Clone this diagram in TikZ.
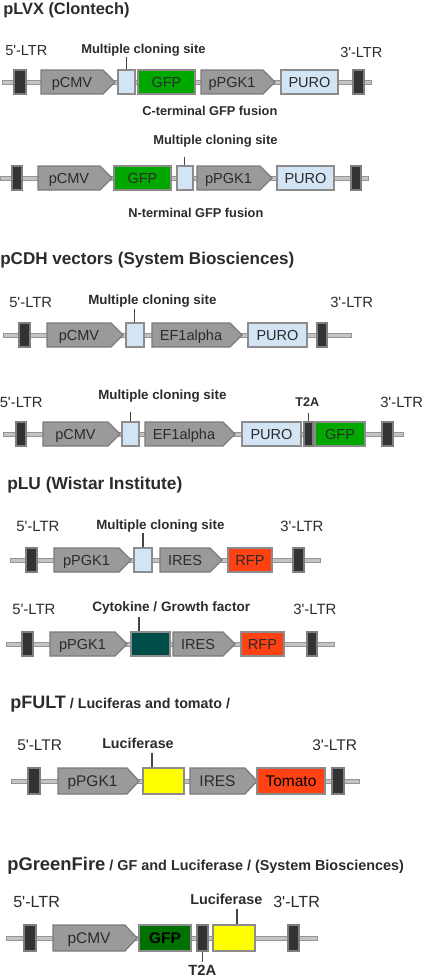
\documentclass[tikz,border=0pt]{standalone}
\usepackage{fontspec}
\setmainfont{Liberation Sans}
\newfontfamily\arialf{Liberation Sans}
\definecolor{bbfill}{HTML}{C4C4C4}
\definecolor{bbdraw}{HTML}{959595}
\definecolor{ltrfill}{HTML}{333333}
\definecolor{ltrdraw}{HTML}{7F7F7F}
\definecolor{arrfill}{HTML}{9A9A9A}
\definecolor{arrdraw}{HTML}{7B7B7B}
\definecolor{lbfill}{HTML}{D3E5F5}
\definecolor{boxdraw}{HTML}{8C8C8C}
\definecolor{gfpc}{HTML}{00A800}
\definecolor{dgfpc}{HTML}{007000}
\definecolor{rfpc}{HTML}{FF4214}
\definecolor{tealc}{HTML}{004C48}
\definecolor{yelc}{HTML}{FFFF00}
\definecolor{txtc}{HTML}{2B2B2B}
\definecolor{tickc}{HTML}{444444}
\newcommand{\bbline}[4]{\node[bbsty, minimum width={(#3-#2)*0.75pt}] (#1) at ({(#2+#3)/2},#4) {};}
\newcommand{\blk}[6]{\node[#2, minimum width={(#4-#3)*0.75pt}] (#1) at ({(#3+#4)/2},#5) {#6};}
\newcommand{\promoter}[7]{%
  \draw[arrsty] (#2,#4-#5) -- (#3-12,#4-#5) -- (#3,#4) -- (#3-12,#4+#5) -- (#2,#4+#5) -- cycle;
  \node[arrtext, #7] (#1) at ({(#2+#3-12)/2},#4) {#6};}
\begin{document}
\arialf
\begin{tikzpicture}[x=0.75pt,y=-0.75pt,
  bbsty/.style={draw=bbdraw, fill=bbfill, line width=0.75pt, minimum height=3pt, inner sep=0pt},
  blkbase/.style={draw=boxdraw, line width=0.9pt, inner sep=0pt, minimum height=18pt,
     font=\fontsize{10.9}{12}\selectfont, text=txtc, text height=7.8pt, text depth=0pt},
  tall/.style={minimum height=19.5pt, font=\fontsize{11.6}{13}\selectfont, text height=8.3pt},
  ltrsty/.style={blkbase, fill=ltrfill, draw=ltrdraw},
  lbsty/.style={blkbase, fill=lbfill},
  gfpsty/.style={blkbase, fill=gfpc},
  dgfpsty/.style={blkbase, fill=dgfpc},
  rfpsty/.style={blkbase, fill=rfpc},
  tealsty/.style={blkbase, fill=tealc},
  yelsty/.style={blkbase, fill=yelc},
  arrsty/.style={draw=arrdraw, fill=arrfill, line width=0.9pt, line join=miter},
  arrtext/.style={inner sep=0pt, font=\fontsize{10.9}{12}\selectfont, text=txtc, text height=7.8pt, text depth=0pt},
  bigtxt/.style={font=\fontsize{11.6}{13}\selectfont, text height=8.3pt},
  ticksty/.style={draw=tickc, line width=0.8pt},
  lbl/.style={anchor=base west, inner sep=0pt, text=txtc},
  ttl/.style={anchor=base west, inner sep=0pt, text=txtc}
]
\useasboundingbox (0,0) rectangle (425,979);

% ===== Section 1: pLVX =====
\node[ttl, font=\bfseries\fontsize{12.3}{14}\selectfont] (t1) at (3,14.8) {pLVX (Clontech)};

% Row 1
\bbline{bb1}{2}{371}{82}
\blk{ltr1a}{ltrsty}{14}{26}{82}{}
\promoter{pcmv1}{41}{115}{82}{12}{pCMV}{}
\blk{mcs1}{lbsty}{118}{135}{82}{}
\blk{gfp1}{gfpsty}{138}{195}{82}{GFP}
\promoter{ppgk1a}{201}{275}{82}{12}{pPGK1}{}
\blk{puro1}{lbsty}{281}{338}{82}{PURO}
\blk{ltr1b}{ltrsty}{353}{364}{82}{}
\coordinate (k1) at (126.5,57);
\draw[ticksty] (mcs1.north -| k1) -- (k1);
\node[lbl, font=\fontsize{10.9}{12}\selectfont] (l1a) at (5,55.2) {5'-LTR};
\node[lbl, font=\fontsize{10.9}{12}\selectfont] (l1b) at (340,57.2) {3'-LTR};
\node[lbl, font=\bfseries\fontsize{9.7}{11}\selectfont] (m1) at (81,53.6) {Multiple cloning site};
\node[lbl, font=\bfseries\fontsize{9.6}{11}\selectfont] (c1) at (142,115.6) {C-terminal GFP fusion};

% Row 2
\bbline{bb2}{0}{368}{178}
\blk{ltr2a}{ltrsty}{12}{22}{178}{}
\promoter{pcmv2}{38}{112}{178}{12}{pCMV}{}
\blk{gfp2}{gfpsty}{114}{171}{178}{GFP}
\blk{mcs2}{lbsty}{177}{193}{178}{}
\promoter{ppgk2}{197}{272}{178}{12}{pPGK1}{}
\blk{puro2}{lbsty}{277}{334}{178}{PURO}
\blk{ltr2b}{ltrsty}{351}{361}{178}{}
\coordinate (k2) at (184.5,157);
\draw[ticksty] (mcs2.north -| k2) -- (k2);
\node[lbl, font=\bfseries\fontsize{9.7}{11}\selectfont] (m2) at (153,144.6) {Multiple cloning site};
\node[lbl, font=\bfseries\fontsize{9.6}{11}\selectfont] (n2) at (128,217.6) {N-terminal GFP fusion};

% ===== Section 2: pCDH =====
\node[ttl, font=\bfseries\fontsize{12.8}{15}\selectfont] (t2) at (0,264) {pCDH vectors (System Biosciences)};

% Row 3
\bbline{bb3}{3}{351}{335}
\blk{ltr3a}{ltrsty}{19}{30}{335}{}
\promoter{pcmv3}{47}{123}{335}{12}{pCMV}{}
\blk{mcs3}{lbsty}{126}{144}{335}{}
\promoter{ef3}{152}{242}{335}{12}{EF1alpha}{}
\blk{puro3}{lbsty}{248}{307}{335}{PURO}
\blk{ltr3b}{ltrsty}{317}{327}{335}{}
\coordinate (k3) at (134.5,309);
\draw[ticksty] (mcs3.north -| k3) -- (k3);
\node[lbl, font=\fontsize{11.1}{12}\selectfont] (l3a) at (9,307.3) {5'-LTR};
\node[lbl, font=\fontsize{11.1}{12}\selectfont] (l3b) at (330,307.3) {3'-LTR};
\node[lbl, font=\bfseries\fontsize{10}{12}\selectfont] (m3) at (88,304.8) {Multiple cloning site};

% Row 4
\bbline{bb4}{3}{403}{434}
\blk{ltr4a}{ltrsty}{16}{26}{434}{}
\promoter{pcmv4}{43}{120}{434}{12}{pCMV}{}
\blk{mcs4}{lbsty}{122}{139}{434}{}
\promoter{ef4}{145}{235}{434}{12}{EF1alpha}{}
\blk{puro4}{lbsty}{242}{301}{434}{PURO}
\blk{t2a4}{ltrsty}{304}{313}{434}{}
\blk{gfp4}{gfpsty}{315}{365}{434}{GFP}
\blk{ltr4b}{ltrsty}{382}{393}{434}{}
\coordinate (k4) at (130.5,412);
\draw[ticksty] (mcs4.north -| k4) -- (k4);
\coordinate (k4b) at (308.5,413);
\draw[ticksty] (t2a4.north -| k4b) -- (k4b);
\node[lbl, font=\fontsize{11.1}{12}\selectfont] (l4a) at (-0.5,407.3) {5'-LTR};
\node[lbl, font=\fontsize{11.1}{12}\selectfont] (l4b) at (380,407.3) {3'-LTR};
\node[lbl, font=\bfseries\fontsize{10}{12}\selectfont] (m4) at (98,399.8) {Multiple cloning site};
\node[lbl, font=\bfseries\fontsize{9.5}{11}\selectfont] (q4) at (295,406.5) {T2A};

% ===== Section 3: pLU =====
\node[ttl, font=\bfseries\fontsize{13}{15}\selectfont] (t3) at (7,489) {pLU (Wistar Institute)};

% Row 5
\bbline{bb5}{10}{320}{560}
\blk{ltr5a}{ltrsty}{26}{37}{560}{}
\promoter{ppgk5}{54}{131}{560}{12}{pPGK1}{}
\blk{mcs5}{lbsty}{134}{152}{560}{}
\promoter{ires5}{160}{222}{560}{12}{IRES}{}
\blk{rfp5}{rfpsty}{228}{272}{560}{RFP}
\blk{ltr5b}{ltrsty}{293}{304}{560}{}
\coordinate (k5) at (143,533);
\draw[ticksty] (mcs5.north -| k5) -- (k5);
\node[lbl, font=\fontsize{11.2}{12}\selectfont] (l5a) at (16,531.4) {5'-LTR};
\node[lbl, font=\fontsize{11.2}{12}\selectfont] (l5b) at (280,531.4) {3'-LTR};
\node[lbl, font=\bfseries\fontsize{10}{12}\selectfont] (m5) at (96,529.8) {Multiple cloning site};

% Row 6
\bbline{bb6}{6}{334}{644}
\blk{ltr6a}{ltrsty}{22}{33}{644}{}
\promoter{ppgk6}{50}{127}{644}{12}{pPGK1}{}
\blk{cyt6}{tealsty}{131}{170}{644}{}
\promoter{ires6}{173}{235}{644}{12}{IRES}{}
\blk{rfp6}{rfpsty}{241}{284}{644}{RFP}
\blk{ltr6b}{ltrsty}{307}{317}{644}{}
\coordinate (k6) at (139,617);
\draw[ticksty] (cyt6.north -| k6) -- (k6);
\node[lbl, font=\fontsize{11.2}{12}\selectfont] (l6a) at (12,614.4) {5'-LTR};
\node[lbl, font=\fontsize{11.2}{12}\selectfont] (l6b) at (293,614.4) {3'-LTR};
\node[lbl, font=\bfseries\fontsize{10.2}{12}\selectfont] (g6) at (92,611.9) {Cytokine / Growth factor};

% ===== Section 4: pFULT =====
\node[ttl, font=\bfseries\fontsize{13.5}{15}\selectfont] (t4) at (10,708.5) {pFULT{\fontsize{10.7}{12}\selectfont\ / Luciferas and tomato /}};

% Row 7
\bbline{bb7}{11}{359}{781}
\blk{ltr7a}{ltrsty,tall}{28}{40}{781}{}
\promoter{ppgk7}{58}{139}{781}{13}{pPGK1}{bigtxt}
\blk{luc7}{yelsty,tall}{143}{184}{781}{}
\promoter{ires7}{190}{257}{781}{13}{IRES}{bigtxt}
\blk{tom7}{rfpsty,tall,text=black}{257}{325}{781}{Tomato}
\blk{ltr7b}{ltrsty,tall}{332}{344}{781}{}
\coordinate (k7) at (152,753);
\draw[ticksty] (luc7.north -| k7) -- (k7);
\node[lbl, font=\fontsize{11.6}{13}\selectfont] (l7a) at (17,750.5) {5'-LTR};
\node[lbl, font=\fontsize{11.6}{13}\selectfont] (l7b) at (312,750.5) {3'-LTR};
\node[lbl, font=\bfseries\fontsize{10.7}{12}\selectfont] (u7) at (102,748) {Luciferase};

% ===== Section 5: pGreenFire =====
\node[ttl, font=\bfseries\fontsize{13.8}{15}\selectfont] (t5) at (7,870.5) {pGreenFire{\fontsize{10.8}{12}\selectfont\ / GF and Luciferase / (System Biosciences)}};

% Row 8
\bbline{bb8}{6}{317}{938}
\blk{ltr8a}{ltrsty,tall}{24}{36}{938}{}
\promoter{pcmv8}{53}{137}{938}{13}{pCMV}{bigtxt}
\blk{gfp8}{dgfpsty,tall,text=black,font=\bfseries\fontsize{11.6}{13}\selectfont}{139}{191}{938}{GFP}
\blk{t2a8}{ltrsty,tall}{197}{208}{938}{}
\blk{luc8}{yelsty,tall}{213}{255}{938}{}
\blk{ltr8b}{ltrsty,tall}{288}{299}{938}{}
\coordinate (k8) at (202.5,962);
\draw[ticksty] (t2a8.south -| k8) -- (k8);
\coordinate (k8b) at (237,909);
\draw[ticksty] (luc8.north -| k8b) -- (k8b);
\node[lbl, font=\fontsize{12.1}{14}\selectfont] (l8a) at (13,907.8) {5'-LTR};
\node[lbl, font=\fontsize{12.1}{14}\selectfont] (l8b) at (273,907.8) {3'-LTR};
\node[lbl, font=\bfseries\fontsize{10.8}{12}\selectfont] (u8) at (190,904.2) {Luciferase};
\node[lbl, font=\bfseries\fontsize{11.1}{13}\selectfont] (q8) at (188,975.3) {T2A};
\end{tikzpicture}
\end{document}
